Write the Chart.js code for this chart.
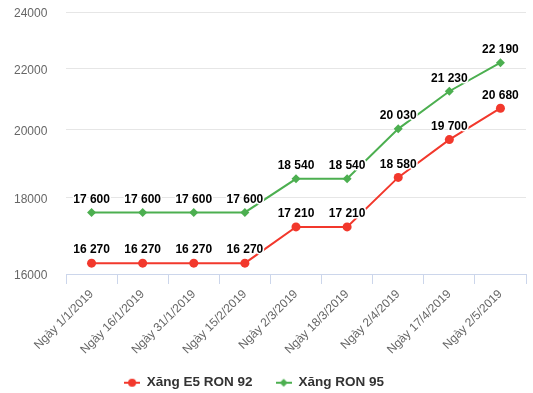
<!DOCTYPE html>
<html><head><meta charset="utf-8">
<script src="https://cdn.jsdelivr.net/npm/chart.js@4/dist/chart.umd.min.js"></script>
<style>html,body{margin:0;padding:0;background:#fff}#wrap{width:533px;height:393px}</style>
</head><body><div id="wrap"><canvas id="c" width="533" height="393"></canvas></div>
<script>
const categories = ['Ngày 1/1/2019','Ngày 16/1/2019','Ngày 31/1/2019','Ngày 15/2/2019','Ngày 2/3/2019','Ngày 18/3/2019','Ngày 2/4/2019','Ngày 17/4/2019','Ngày 2/5/2019'];
const e5Ron92 = [16270,16270,16270,16270,17210,17210,18580,19700,20680];
const ron95 = [17600,17600,17600,17600,18540,18540,20030,21230,22190];
const yTicks = [16000,18000,20000,22000,24000];
const seriesNames = ['Xăng E5 RON 92','Xăng RON 95'];

const RED = '#f2382c', GREEN = '#4caf50';
const FONT = '"Liberation Sans", Arial, sans-serif';

function legendIcon(color, shape){
  const c = document.createElement('canvas'); c.width = 16; c.height = 10;
  const g = c.getContext('2d');
  g.strokeStyle = color; g.lineWidth = 2;
  g.beginPath(); g.moveTo(0,5); g.lineTo(16,5); g.stroke();
  g.fillStyle = color; g.beginPath();
  if (shape === 'circle') { g.arc(8,5,4,0,Math.PI*2); }
  else { g.moveTo(8,1); g.lineTo(12,5); g.lineTo(8,9); g.lineTo(4,5); g.closePath(); }
  g.fill();
  return c;
}
const icons = [legendIcon(RED,'circle'), legendIcon(GREEN,'diamond')];

function fmt(v){ return String(v).replace(/\B(?=(\d{3})+(?!\d))/g, ' '); }

const dataLabels = {
  id: 'dataLabels',
  afterDatasetsDraw(chart){
    const ctx = chart.ctx;
    ctx.save();
    ctx.font = 'bold 12px ' + FONT;
    ctx.textAlign = 'center'; ctx.textBaseline = 'middle';
    ctx.lineJoin = 'round';
    chart.data.datasets.forEach((ds, di) => {
      const meta = chart.getDatasetMeta(di);
      meta.data.forEach((pt, i) => {
        const t = fmt(ds.data[i]);
        ctx.strokeStyle = '#fff'; ctx.lineWidth = 3;
        ctx.strokeText(t, pt.x, pt.y - 13);
        ctx.fillStyle = '#000';
        ctx.fillText(t, pt.x, pt.y - 13);
      });
    });
    ctx.restore();
  }
};

const legendTweak = {
  id: 'legendTweak',
  afterInit(chart){
    const l = chart.legend;
    if (l && !l._fitWrapped) {
      const f = l.fit.bind(l);
      l.fit = function(){ f(); this.height = 35; };
      l._fitWrapped = true;
    }
  },
  afterLayout(chart){
    const l = chart.legend; const dx = -16, dy = -5;
    l.left += dx; l.right += dx; l.top += dy; l.bottom = chart.height;
  }
};

new Chart(document.getElementById('c'), {
  type: 'line',
  data: {
    labels: categories,
    datasets: [
      { label: seriesNames[0], data: e5Ron92, borderColor: RED, backgroundColor: RED, borderWidth: 2,
        pointStyle: 'circle', pointRadius: 4.5, pointHoverRadius: 4.5, pointBorderWidth: 0 },
      { label: seriesNames[1], data: ron95, borderColor: GREEN, backgroundColor: GREEN, borderWidth: 2,
        pointStyle: 'rectRot', pointRadius: 4.5, pointHoverRadius: 4.5, pointBorderWidth: 0 }
    ]
  },
  options: {
    responsive: false, animation: false, devicePixelRatio: 1,
    layout: { padding: { left: 14, right: 7, top: 12, bottom: 0 } },
    plugins: {
      tooltip: { enabled: false },
      legend: {
        position: 'bottom', align: 'center',
        labels: {
          usePointStyle: true, pointStyleWidth: 16, padding: 23,
          color: '#333', font: { family: FONT, size: 13.5, weight: 'bold' },
          generateLabels(chart){
            return chart.data.datasets.map((ds, i) => ({
              text: ds.label, pointStyle: icons[i], fillStyle: ds.borderColor,
              strokeStyle: ds.borderColor, lineWidth: 0, hidden: false, datasetIndex: i, fontColor: '#333'
            }));
          }
        }
      }
    },
    scales: {
      x: {
        offset: true,
        grid: { drawOnChartArea: false, drawTicks: true, tickLength: 10, color: '#ccd6eb', offset: true },
        border: { display: true, color: '#ccd6eb', width: 1 },
        ticks: { autoSkip: false, maxRotation: 45, minRotation: 45, padding: 3, color: '#666', font: { family: FONT, size: 12 } },
        afterFit(s){ s.height = 84; }
      },
      y: {
        type: 'logarithmic', min: 16000, max: 24000,
        afterBuildTicks(s){ s.ticks = yTicks.map(v => ({ value: v })); },
        grid: { color: '#e6e6e6', drawTicks: false },
        border: { display: false },
        ticks: { crossAlign: 'far', padding: 0, labelOffset: 2, color: '#666', font: { family: FONT, size: 12 }, callback: v => String(v) },
        afterFit(s){ s.width = 52; }
      }
    }
  },
  plugins: [dataLabels, legendTweak]
});
</script></body></html>
